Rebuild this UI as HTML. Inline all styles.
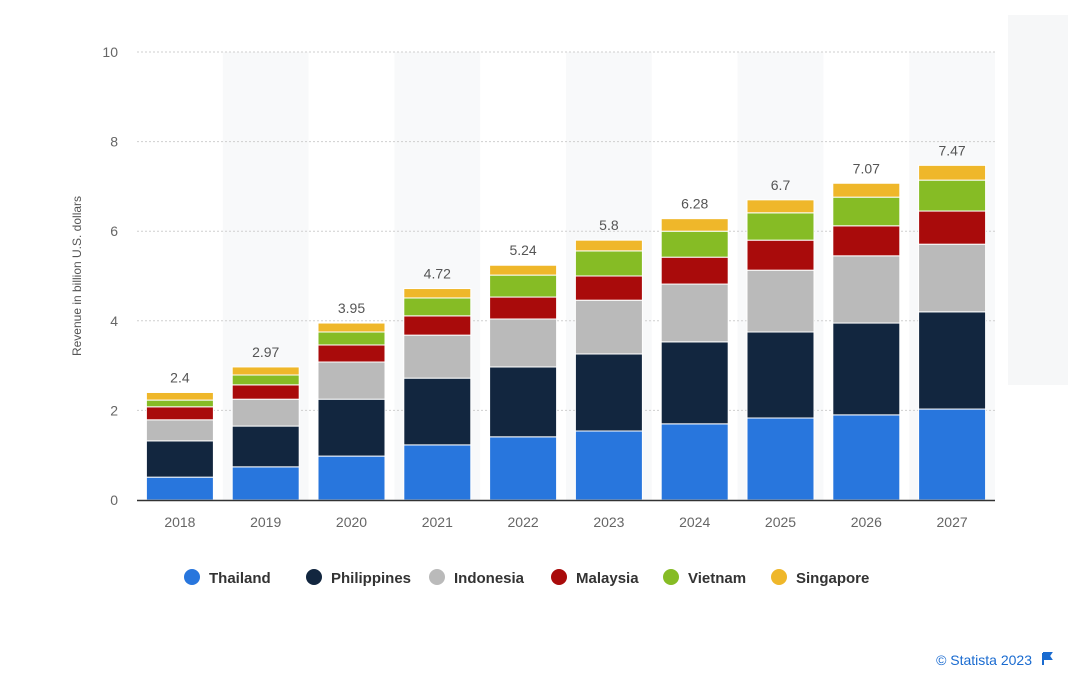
<!DOCTYPE html>
<html><head><meta charset="utf-8"><style>
body{margin:0;background:#fff;font-family:"Liberation Sans",sans-serif}
#wrap{position:relative;width:1080px;height:675px;overflow:hidden}
</style></head><body><div id="wrap">
<svg id="chart" width="1080" height="675"></svg>
</div>
<script>
const years=["2018","2019","2020","2021","2022","2023","2024","2025","2026","2027"];
const totals=[2.4,2.97,3.95,4.72,5.24,5.8,6.28,6.7,7.07,7.47];
const thailand=[0.51,0.74,0.98,1.23,1.41,1.54,1.70,1.83,1.90,2.03];
const philippines=[0.81,0.91,1.27,1.49,1.56,1.72,1.83,1.92,2.05,2.17];
const indonesia=[0.47,0.60,0.83,0.96,1.07,1.20,1.29,1.38,1.50,1.51];
const malaysia=[0.29,0.32,0.38,0.43,0.49,0.54,0.60,0.67,0.67,0.74];
const vietnam=[0.15,0.22,0.29,0.40,0.49,0.56,0.58,0.61,0.64,0.69];
const singapore=[0.17,0.18,0.20,0.21,0.22,0.24,0.28,0.29,0.31,0.33];
const yTicks=[0,2,4,6,8,10];
const seriesNames=["Thailand","Philippines","Indonesia","Malaysia","Vietnam","Singapore"];
const seriesData=[thailand,philippines,indonesia,malaysia,vietnam,singapore];
const colors=["#2876dd","#12263f","#bababa","#a90b0b","#86bc25","#efb72a"];
const NS="http://www.w3.org/2000/svg";
const svg=document.getElementById('chart');
const X0=137,X1=995,Y0=500,Y10=52;
const band=(X1-X0)/years.length;
const y=v=>Y0-(v/10)*(Y0-Y10);
const xc=i=>X0+band*(i+0.5);
function mk(t,a,p){const e=document.createElementNS(NS,t);for(const k in a)e.setAttribute(k,a[k]);(p||svg).appendChild(e);return e;}
// side panel
const sp=mk('rect',{x:1008,y:15,width:60,height:370,fill:'#f6f7f8'});


years.forEach((yr,i)=>{if(i%2==1){const b=mk('rect',{x:X0+band*i,y:Y10,width:band,height:Y0-Y10,fill:'#f8f9fa'});

}});
yTicks.forEach(t=>{
 if(t>0){const g=mk('line',{x1:X0,x2:X1,y1:y(t),y2:y(t),stroke:'#cfcfcf','stroke-dasharray':'2,2'});
 
 }
 const l=mk('text',{x:118,y:y(t)+5,'text-anchor':'end','font-size':14,fill:'#666'});l.textContent=t;
 
 
});
const yt=mk('text',{transform:'translate(81,276) rotate(-90)','text-anchor':'middle','font-size':12,fill:'#555'});
yt.textContent='Revenue in billion U.S. dollars';


const bw=67;
years.forEach((yr,i)=>{
 let cum=0;
 seriesData.forEach((s,k)=>{
  const v=s[i];const r=mk('rect',{x:xc(i)-bw/2,y:y(cum+v),width:bw,height:y(cum)-y(cum+v),fill:colors[k],stroke:'#fff','stroke-width':1});
  
  
  cum+=v;
 });
 const tl=mk('text',{x:xc(i),y:y(totals[i])-10,'text-anchor':'middle','font-size':14,fill:'#555'});tl.textContent=totals[i];
 
 
 const xl=mk('text',{x:xc(i),y:527,'text-anchor':'middle','font-size':14,fill:'#666'});xl.textContent=yr;
 
 
});
const ax=mk('line',{x1:X0,x2:X1,y1:Y0+0.5,y2:Y0+0.5,stroke:'#333','stroke-width':1.5});


const lx=[192,314,437,559,671,779];
seriesNames.forEach((n,k)=>{
 const c=mk('circle',{cx:lx[k],cy:577,r:8,fill:colors[k]});
 
 
 const t=mk('text',{x:lx[k]+17,y:583,'font-size':15,'font-weight':'bold',fill:'#333'});t.textContent=n;
 
 
});
const st=mk('text',{x:1032,y:665,'text-anchor':'end','font-size':14,fill:'#1a6bd0'});st.textContent='© Statista 2023';


const fl=mk('path',{d:'M1043 653 v12 M1043 653 h8 l-2 3 l2 3 h-8',stroke:'#1a6bd0','stroke-width':2,fill:'#1a6bd0'});


</script></body></html>
